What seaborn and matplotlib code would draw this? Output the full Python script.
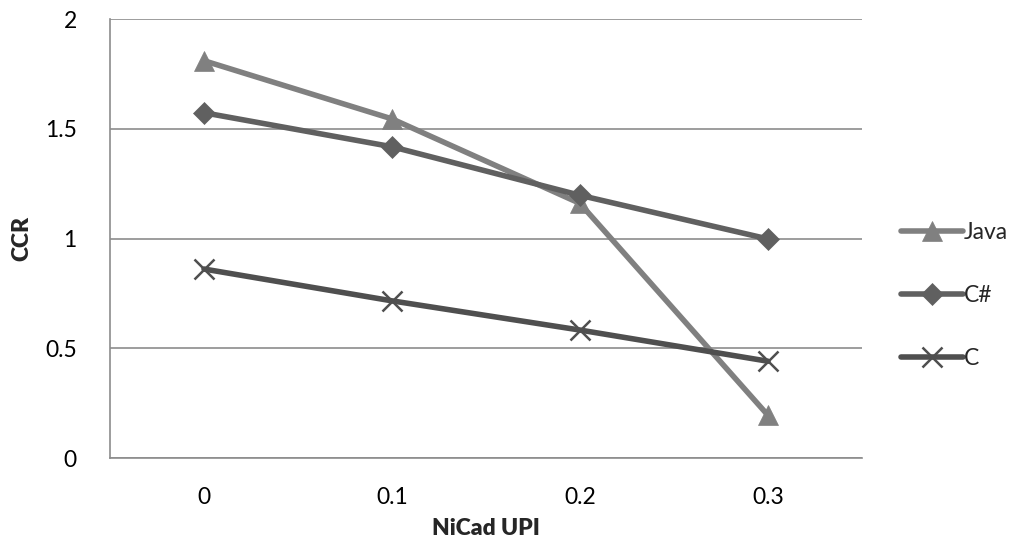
import matplotlib
matplotlib.use("Agg")
import matplotlib.pyplot as plt
import seaborn as sns
import pandas as pd
import numpy as np

categories = ["0", "0.1", "0.2", "0.3"]
java = [1.81, 1.545, 1.16, 0.195]
csharp = [1.573, 1.418, 1.197, 0.998]
c_vals = [0.861, 0.716, 0.583, 0.441]

series_names = ["Java", "C#", "C"]
series_vals = [java, csharp, c_vals]
colors = ["#808080", "#606060", "#4f4f4f"]
markers = ["^", "D", "x"]
msizes = [15, 11, 14]

sns.set_theme(style="white")
plt.rcParams["font.family"] = ["Lato", "DejaVu Sans"]

fig = plt.figure(figsize=(10.14, 5.48), dpi=100)
ax = fig.add_axes([0.1085, 0.1642, 0.7415, 0.8011])

for name, vals, col, mk, ms in zip(series_names, series_vals, colors, markers, msizes):
    df = pd.DataFrame({"x": np.arange(len(categories)), "y": vals})
    sns.lineplot(data=df, x="x", y="y", ax=ax, color=col, linewidth=4.0,
                 marker=mk, markersize=ms, markeredgecolor=col,
                 markeredgewidth=1.8 if mk == "x" else 0.5, label=name)

ax.set_xlim(-0.5, len(categories) - 0.5)
ax.set_ylim(0, 2)
ax.set_xticks(np.arange(len(categories)))
ax.set_xticklabels(categories)
ax.set_yticks([0, 0.5, 1, 1.5, 2])
ax.set_yticklabels(["0", "0.5", "1", "1.5", "2"])
ax.yaxis.grid(True, color="#8c8c8c", linewidth=1.2)
ax.xaxis.grid(False)
for s in ["top", "right"]:
    ax.spines[s].set_visible(False)
ax.spines["left"].set_color("#8c8c8c")
ax.spines["bottom"].set_color("#8c8c8c")
ax.spines["left"].set_linewidth(1.2)
ax.spines["bottom"].set_linewidth(1.2)
ax.tick_params(axis="both", length=0, labelsize=16.5, colors="black")
ax.tick_params(axis="x", pad=21)
ax.tick_params(axis="y", pad=24)
ax.set_xlabel("NiCad UPI", fontsize=16.5, fontweight="heavy", labelpad=7)
ax.set_ylabel("CCR", fontsize=16.5, fontweight="heavy", labelpad=9)

leg = ax.legend(loc="center left", bbox_to_anchor=(1.04, 0.37), frameon=False,
                fontsize=16.5, handlelength=2.7, labelspacing=1.85, handletextpad=0.05,
                borderaxespad=0)

fig.savefig("out.png", dpi=100)
